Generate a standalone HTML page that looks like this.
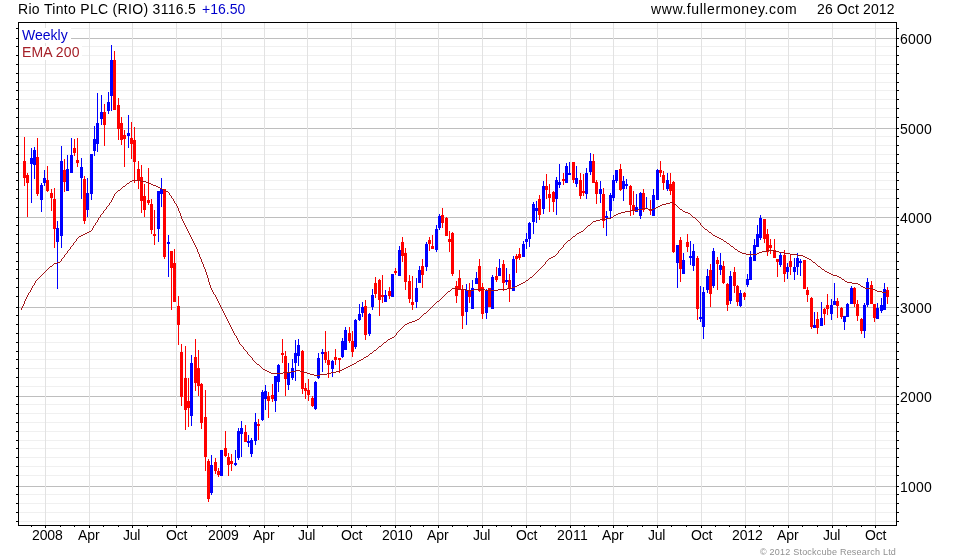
<!DOCTYPE html><html><head><meta charset="utf-8"><title>Rio Tinto PLC (RIO)</title>
<style>html,body{margin:0;padding:0;background:#fff}body{width:980px;height:560px;position:relative;overflow:hidden;font-family:"Liberation Sans",sans-serif;font-size:14px;color:#000}
.t{position:absolute;white-space:nowrap;line-height:16px;height:16px;will-change:transform}.xl{position:absolute;white-space:nowrap;line-height:16px;height:16px;width:60px;text-align:center;top:528px}.yl{position:absolute;white-space:nowrap;line-height:16px;height:16px;left:900px}
</style></head><body>
<svg width="980" height="560" viewBox="0 0 980 560" shape-rendering="crispEdges" style="position:absolute;left:0;top:0">
<rect x="19" y="28" width="877" height="1" fill="#f0f0f0"/>
<rect x="19" y="46" width="877" height="1" fill="#f0f0f0"/>
<rect x="19" y="55" width="877" height="1" fill="#f0f0f0"/>
<rect x="19" y="64" width="877" height="1" fill="#f0f0f0"/>
<rect x="19" y="73" width="877" height="1" fill="#f0f0f0"/>
<rect x="19" y="82" width="877" height="1" fill="#f0f0f0"/>
<rect x="19" y="90" width="877" height="1" fill="#f0f0f0"/>
<rect x="19" y="99" width="877" height="1" fill="#f0f0f0"/>
<rect x="19" y="108" width="877" height="1" fill="#f0f0f0"/>
<rect x="19" y="117" width="877" height="1" fill="#f0f0f0"/>
<rect x="19" y="136" width="877" height="1" fill="#f0f0f0"/>
<rect x="19" y="145" width="877" height="1" fill="#f0f0f0"/>
<rect x="19" y="154" width="877" height="1" fill="#f0f0f0"/>
<rect x="19" y="163" width="877" height="1" fill="#f0f0f0"/>
<rect x="19" y="172" width="877" height="1" fill="#f0f0f0"/>
<rect x="19" y="180" width="877" height="1" fill="#f0f0f0"/>
<rect x="19" y="189" width="877" height="1" fill="#f0f0f0"/>
<rect x="19" y="198" width="877" height="1" fill="#f0f0f0"/>
<rect x="19" y="207" width="877" height="1" fill="#f0f0f0"/>
<rect x="19" y="225" width="877" height="1" fill="#f0f0f0"/>
<rect x="19" y="234" width="877" height="1" fill="#f0f0f0"/>
<rect x="19" y="243" width="877" height="1" fill="#f0f0f0"/>
<rect x="19" y="252" width="877" height="1" fill="#f0f0f0"/>
<rect x="19" y="261" width="877" height="1" fill="#f0f0f0"/>
<rect x="19" y="269" width="877" height="1" fill="#f0f0f0"/>
<rect x="19" y="278" width="877" height="1" fill="#f0f0f0"/>
<rect x="19" y="287" width="877" height="1" fill="#f0f0f0"/>
<rect x="19" y="296" width="877" height="1" fill="#f0f0f0"/>
<rect x="19" y="315" width="877" height="1" fill="#f0f0f0"/>
<rect x="19" y="324" width="877" height="1" fill="#f0f0f0"/>
<rect x="19" y="333" width="877" height="1" fill="#f0f0f0"/>
<rect x="19" y="342" width="877" height="1" fill="#f0f0f0"/>
<rect x="19" y="351" width="877" height="1" fill="#f0f0f0"/>
<rect x="19" y="359" width="877" height="1" fill="#f0f0f0"/>
<rect x="19" y="368" width="877" height="1" fill="#f0f0f0"/>
<rect x="19" y="377" width="877" height="1" fill="#f0f0f0"/>
<rect x="19" y="386" width="877" height="1" fill="#f0f0f0"/>
<rect x="19" y="404" width="877" height="1" fill="#f0f0f0"/>
<rect x="19" y="413" width="877" height="1" fill="#f0f0f0"/>
<rect x="19" y="422" width="877" height="1" fill="#f0f0f0"/>
<rect x="19" y="431" width="877" height="1" fill="#f0f0f0"/>
<rect x="19" y="440" width="877" height="1" fill="#f0f0f0"/>
<rect x="19" y="448" width="877" height="1" fill="#f0f0f0"/>
<rect x="19" y="457" width="877" height="1" fill="#f0f0f0"/>
<rect x="19" y="466" width="877" height="1" fill="#f0f0f0"/>
<rect x="19" y="475" width="877" height="1" fill="#f0f0f0"/>
<rect x="19" y="494" width="877" height="1" fill="#f0f0f0"/>
<rect x="19" y="503" width="877" height="1" fill="#f0f0f0"/>
<rect x="19" y="512" width="877" height="1" fill="#f0f0f0"/>
<rect x="19" y="521" width="877" height="1" fill="#f0f0f0"/>
<rect x="19" y="486" width="877" height="1" fill="#bebebe"/>
<rect x="19" y="396" width="877" height="1" fill="#bebebe"/>
<rect x="19" y="307" width="877" height="1" fill="#bebebe"/>
<rect x="19" y="217" width="877" height="1" fill="#bebebe"/>
<rect x="19" y="128" width="877" height="1" fill="#bebebe"/>
<rect x="19" y="38" width="877" height="1" fill="#bebebe"/>
<rect x="45" y="23" width="1" height="502" fill="#e2e2e2"/>
<rect x="89" y="23" width="1" height="502" fill="#e2e2e2"/>
<rect x="132" y="23" width="1" height="502" fill="#e2e2e2"/>
<rect x="176" y="23" width="1" height="502" fill="#e2e2e2"/>
<rect x="221" y="23" width="1" height="502" fill="#e2e2e2"/>
<rect x="264" y="23" width="1" height="502" fill="#e2e2e2"/>
<rect x="307" y="23" width="1" height="502" fill="#e2e2e2"/>
<rect x="351" y="23" width="1" height="502" fill="#e2e2e2"/>
<rect x="395" y="23" width="1" height="502" fill="#e2e2e2"/>
<rect x="438" y="23" width="1" height="502" fill="#e2e2e2"/>
<rect x="482" y="23" width="1" height="502" fill="#e2e2e2"/>
<rect x="526" y="23" width="1" height="502" fill="#e2e2e2"/>
<rect x="570" y="23" width="1" height="502" fill="#e2e2e2"/>
<rect x="613" y="23" width="1" height="502" fill="#e2e2e2"/>
<rect x="657" y="23" width="1" height="502" fill="#e2e2e2"/>
<rect x="701" y="23" width="1" height="502" fill="#e2e2e2"/>
<rect x="745" y="23" width="1" height="502" fill="#e2e2e2"/>
<rect x="788" y="23" width="1" height="502" fill="#e2e2e2"/>
<rect x="832" y="23" width="1" height="502" fill="#e2e2e2"/>
<rect x="875" y="23" width="1" height="502" fill="#e2e2e2"/>
<rect x="19" y="28" width="52" height="15" fill="#fff"/>
<rect x="19" y="46" width="63" height="14" fill="#fff"/>
<rect x="24" y="137" width="1" height="49" fill="#ff0000"/>
<rect x="23" y="161" width="3" height="17" fill="#ff0000"/>
<rect x="27" y="173" width="1" height="44" fill="#ff0000"/>
<rect x="26" y="175" width="3" height="8" fill="#ff0000"/>
<rect x="31" y="148" width="1" height="55" fill="#0000ff"/>
<rect x="30" y="158" width="3" height="6" fill="#0000ff"/>
<rect x="34" y="147" width="1" height="32" fill="#0000ff"/>
<rect x="33" y="150" width="3" height="15" fill="#0000ff"/>
<rect x="37" y="138" width="1" height="58" fill="#ff0000"/>
<rect x="36" y="157" width="3" height="37" fill="#ff0000"/>
<rect x="41" y="183" width="1" height="29" fill="#0000ff"/>
<rect x="40" y="185" width="3" height="15" fill="#0000ff"/>
<rect x="44" y="170" width="1" height="16" fill="#0000ff"/>
<rect x="43" y="178" width="3" height="5" fill="#0000ff"/>
<rect x="47" y="166" width="1" height="26" fill="#ff0000"/>
<rect x="46" y="180" width="3" height="11" fill="#ff0000"/>
<rect x="51" y="189" width="1" height="22" fill="#ff0000"/>
<rect x="50" y="193" width="3" height="5" fill="#ff0000"/>
<rect x="54" y="188" width="1" height="60" fill="#ff0000"/>
<rect x="53" y="199" width="3" height="30" fill="#ff0000"/>
<rect x="57" y="221" width="1" height="68" fill="#0000ff"/>
<rect x="56" y="228" width="3" height="14" fill="#0000ff"/>
<rect x="61" y="146" width="1" height="102" fill="#0000ff"/>
<rect x="60" y="161" width="3" height="75" fill="#0000ff"/>
<rect x="64" y="159" width="1" height="33" fill="#ff0000"/>
<rect x="63" y="170" width="3" height="12" fill="#ff0000"/>
<rect x="67" y="155" width="1" height="36" fill="#0000ff"/>
<rect x="66" y="169" width="3" height="22" fill="#0000ff"/>
<rect x="71" y="138" width="1" height="35" fill="#0000ff"/>
<rect x="70" y="155" width="3" height="18" fill="#0000ff"/>
<rect x="74" y="139" width="1" height="17" fill="#ff0000"/>
<rect x="73" y="148" width="3" height="5" fill="#ff0000"/>
<rect x="77" y="138" width="1" height="29" fill="#ff0000"/>
<rect x="76" y="160" width="3" height="3" fill="#ff0000"/>
<rect x="81" y="158" width="1" height="41" fill="#0000ff"/>
<rect x="80" y="167" width="3" height="11" fill="#0000ff"/>
<rect x="84" y="176" width="1" height="48" fill="#ff0000"/>
<rect x="83" y="179" width="3" height="42" fill="#ff0000"/>
<rect x="87" y="178" width="1" height="39" fill="#0000ff"/>
<rect x="86" y="193" width="3" height="17" fill="#0000ff"/>
<rect x="91" y="154" width="1" height="46" fill="#0000ff"/>
<rect x="90" y="154" width="3" height="40" fill="#0000ff"/>
<rect x="94" y="126" width="1" height="30" fill="#0000ff"/>
<rect x="93" y="139" width="3" height="12" fill="#0000ff"/>
<rect x="97" y="93" width="1" height="59" fill="#0000ff"/>
<rect x="96" y="123" width="3" height="21" fill="#0000ff"/>
<rect x="101" y="95" width="1" height="30" fill="#0000ff"/>
<rect x="100" y="112" width="3" height="7" fill="#0000ff"/>
<rect x="104" y="104" width="1" height="42" fill="#ff0000"/>
<rect x="103" y="112" width="3" height="13" fill="#ff0000"/>
<rect x="108" y="92" width="1" height="22" fill="#0000ff"/>
<rect x="107" y="102" width="3" height="9" fill="#0000ff"/>
<rect x="111" y="45" width="1" height="66" fill="#0000ff"/>
<rect x="110" y="60" width="3" height="36" fill="#0000ff"/>
<rect x="114" y="51" width="1" height="59" fill="#ff0000"/>
<rect x="113" y="60" width="3" height="50" fill="#ff0000"/>
<rect x="118" y="98" width="1" height="42" fill="#ff0000"/>
<rect x="117" y="105" width="3" height="24" fill="#ff0000"/>
<rect x="121" y="117" width="1" height="28" fill="#ff0000"/>
<rect x="120" y="123" width="3" height="17" fill="#ff0000"/>
<rect x="124" y="130" width="1" height="37" fill="#ff0000"/>
<rect x="123" y="135" width="3" height="4" fill="#ff0000"/>
<rect x="128" y="115" width="1" height="33" fill="#0000ff"/>
<rect x="127" y="133" width="3" height="3" fill="#0000ff"/>
<rect x="131" y="122" width="1" height="37" fill="#ff0000"/>
<rect x="130" y="138" width="3" height="6" fill="#ff0000"/>
<rect x="134" y="127" width="1" height="56" fill="#ff0000"/>
<rect x="133" y="140" width="3" height="22" fill="#ff0000"/>
<rect x="138" y="161" width="1" height="28" fill="#ff0000"/>
<rect x="137" y="169" width="3" height="11" fill="#ff0000"/>
<rect x="141" y="165" width="1" height="48" fill="#ff0000"/>
<rect x="140" y="177" width="3" height="24" fill="#ff0000"/>
<rect x="144" y="184" width="1" height="33" fill="#ff0000"/>
<rect x="143" y="196" width="3" height="14" fill="#ff0000"/>
<rect x="148" y="168" width="1" height="37" fill="#ff0000"/>
<rect x="147" y="200" width="3" height="3" fill="#ff0000"/>
<rect x="151" y="199" width="1" height="35" fill="#ff0000"/>
<rect x="150" y="204" width="3" height="26" fill="#ff0000"/>
<rect x="154" y="210" width="1" height="35" fill="#ff0000"/>
<rect x="153" y="234" width="3" height="2" fill="#ff0000"/>
<rect x="158" y="191" width="1" height="51" fill="#0000ff"/>
<rect x="157" y="191" width="3" height="38" fill="#0000ff"/>
<rect x="161" y="178" width="1" height="29" fill="#0000ff"/>
<rect x="160" y="189" width="3" height="5" fill="#0000ff"/>
<rect x="164" y="189" width="1" height="70" fill="#ff0000"/>
<rect x="163" y="189" width="3" height="68" fill="#ff0000"/>
<rect x="168" y="235" width="1" height="42" fill="#0000ff"/>
<rect x="167" y="242" width="3" height="2" fill="#0000ff"/>
<rect x="171" y="251" width="1" height="59" fill="#ff0000"/>
<rect x="170" y="251" width="3" height="17" fill="#ff0000"/>
<rect x="174" y="249" width="1" height="53" fill="#ff0000"/>
<rect x="173" y="263" width="3" height="39" fill="#ff0000"/>
<rect x="178" y="296" width="1" height="49" fill="#ff0000"/>
<rect x="177" y="306" width="3" height="19" fill="#ff0000"/>
<rect x="181" y="344" width="1" height="62" fill="#ff0000"/>
<rect x="180" y="352" width="3" height="45" fill="#ff0000"/>
<rect x="185" y="346" width="1" height="84" fill="#ff0000"/>
<rect x="184" y="378" width="3" height="32" fill="#ff0000"/>
<rect x="188" y="378" width="1" height="49" fill="#ff0000"/>
<rect x="187" y="401" width="3" height="7" fill="#ff0000"/>
<rect x="191" y="355" width="1" height="71" fill="#0000ff"/>
<rect x="190" y="363" width="3" height="53" fill="#0000ff"/>
<rect x="195" y="339" width="1" height="52" fill="#ff0000"/>
<rect x="194" y="357" width="3" height="26" fill="#ff0000"/>
<rect x="198" y="350" width="1" height="46" fill="#ff0000"/>
<rect x="197" y="368" width="3" height="18" fill="#ff0000"/>
<rect x="201" y="383" width="1" height="46" fill="#ff0000"/>
<rect x="200" y="384" width="3" height="39" fill="#ff0000"/>
<rect x="205" y="390" width="1" height="81" fill="#ff0000"/>
<rect x="204" y="417" width="3" height="40" fill="#ff0000"/>
<rect x="208" y="459" width="1" height="43" fill="#ff0000"/>
<rect x="207" y="461" width="3" height="38" fill="#ff0000"/>
<rect x="211" y="455" width="1" height="40" fill="#0000ff"/>
<rect x="210" y="465" width="3" height="28" fill="#0000ff"/>
<rect x="215" y="458" width="1" height="16" fill="#ff0000"/>
<rect x="214" y="462" width="3" height="9" fill="#ff0000"/>
<rect x="218" y="468" width="1" height="9" fill="#ff0000"/>
<rect x="217" y="471" width="3" height="4" fill="#ff0000"/>
<rect x="221" y="450" width="1" height="26" fill="#0000ff"/>
<rect x="220" y="450" width="3" height="26" fill="#0000ff"/>
<rect x="225" y="431" width="1" height="26" fill="#ff0000"/>
<rect x="224" y="448" width="3" height="8" fill="#ff0000"/>
<rect x="228" y="453" width="1" height="23" fill="#ff0000"/>
<rect x="227" y="457" width="3" height="8" fill="#ff0000"/>
<rect x="231" y="454" width="1" height="17" fill="#ff0000"/>
<rect x="230" y="461" width="3" height="3" fill="#ff0000"/>
<rect x="235" y="450" width="1" height="16" fill="#0000ff"/>
<rect x="234" y="463" width="3" height="2" fill="#0000ff"/>
<rect x="238" y="428" width="1" height="32" fill="#0000ff"/>
<rect x="237" y="431" width="3" height="27" fill="#0000ff"/>
<rect x="241" y="421" width="1" height="36" fill="#0000ff"/>
<rect x="240" y="428" width="3" height="6" fill="#0000ff"/>
<rect x="245" y="425" width="1" height="17" fill="#ff0000"/>
<rect x="244" y="432" width="3" height="10" fill="#ff0000"/>
<rect x="248" y="435" width="1" height="12" fill="#0000ff"/>
<rect x="247" y="441" width="3" height="2" fill="#0000ff"/>
<rect x="251" y="438" width="1" height="19" fill="#0000ff"/>
<rect x="250" y="440" width="3" height="14" fill="#0000ff"/>
<rect x="255" y="413" width="1" height="32" fill="#0000ff"/>
<rect x="254" y="422" width="3" height="19" fill="#0000ff"/>
<rect x="258" y="419" width="1" height="21" fill="#ff0000"/>
<rect x="257" y="424" width="3" height="2" fill="#ff0000"/>
<rect x="262" y="390" width="1" height="31" fill="#0000ff"/>
<rect x="261" y="392" width="3" height="28" fill="#0000ff"/>
<rect x="265" y="385" width="1" height="25" fill="#0000ff"/>
<rect x="264" y="391" width="3" height="8" fill="#0000ff"/>
<rect x="268" y="392" width="1" height="26" fill="#ff0000"/>
<rect x="267" y="396" width="3" height="5" fill="#ff0000"/>
<rect x="272" y="384" width="1" height="18" fill="#ff0000"/>
<rect x="271" y="395" width="3" height="4" fill="#ff0000"/>
<rect x="275" y="376" width="1" height="36" fill="#0000ff"/>
<rect x="274" y="376" width="3" height="25" fill="#0000ff"/>
<rect x="278" y="364" width="1" height="28" fill="#0000ff"/>
<rect x="277" y="365" width="3" height="17" fill="#0000ff"/>
<rect x="282" y="339" width="1" height="24" fill="#ff0000"/>
<rect x="281" y="353" width="3" height="2" fill="#ff0000"/>
<rect x="285" y="351" width="1" height="45" fill="#ff0000"/>
<rect x="284" y="356" width="3" height="23" fill="#ff0000"/>
<rect x="288" y="363" width="1" height="27" fill="#0000ff"/>
<rect x="287" y="372" width="3" height="13" fill="#0000ff"/>
<rect x="292" y="359" width="1" height="21" fill="#0000ff"/>
<rect x="291" y="368" width="3" height="10" fill="#0000ff"/>
<rect x="295" y="340" width="1" height="41" fill="#0000ff"/>
<rect x="294" y="353" width="3" height="10" fill="#0000ff"/>
<rect x="298" y="339" width="1" height="27" fill="#0000ff"/>
<rect x="297" y="345" width="3" height="11" fill="#0000ff"/>
<rect x="302" y="350" width="1" height="44" fill="#ff0000"/>
<rect x="301" y="351" width="3" height="38" fill="#ff0000"/>
<rect x="305" y="383" width="1" height="16" fill="#ff0000"/>
<rect x="304" y="388" width="3" height="3" fill="#ff0000"/>
<rect x="308" y="379" width="1" height="22" fill="#ff0000"/>
<rect x="307" y="390" width="3" height="5" fill="#ff0000"/>
<rect x="312" y="396" width="1" height="11" fill="#ff0000"/>
<rect x="311" y="398" width="3" height="8" fill="#ff0000"/>
<rect x="315" y="381" width="1" height="29" fill="#0000ff"/>
<rect x="314" y="382" width="3" height="27" fill="#0000ff"/>
<rect x="318" y="353" width="1" height="26" fill="#0000ff"/>
<rect x="317" y="358" width="3" height="20" fill="#0000ff"/>
<rect x="322" y="349" width="1" height="23" fill="#0000ff"/>
<rect x="321" y="352" width="3" height="2" fill="#0000ff"/>
<rect x="325" y="331" width="1" height="32" fill="#ff0000"/>
<rect x="324" y="352" width="3" height="8" fill="#ff0000"/>
<rect x="328" y="351" width="1" height="27" fill="#ff0000"/>
<rect x="327" y="360" width="3" height="5" fill="#ff0000"/>
<rect x="332" y="360" width="1" height="17" fill="#0000ff"/>
<rect x="331" y="361" width="3" height="8" fill="#0000ff"/>
<rect x="335" y="349" width="1" height="16" fill="#ff0000"/>
<rect x="334" y="357" width="3" height="3" fill="#ff0000"/>
<rect x="339" y="358" width="1" height="15" fill="#ff0000"/>
<rect x="338" y="358" width="3" height="2" fill="#ff0000"/>
<rect x="342" y="338" width="1" height="20" fill="#0000ff"/>
<rect x="341" y="341" width="3" height="16" fill="#0000ff"/>
<rect x="345" y="327" width="1" height="23" fill="#0000ff"/>
<rect x="344" y="330" width="3" height="20" fill="#0000ff"/>
<rect x="349" y="327" width="1" height="16" fill="#ff0000"/>
<rect x="348" y="333" width="3" height="8" fill="#ff0000"/>
<rect x="352" y="331" width="1" height="26" fill="#ff0000"/>
<rect x="351" y="341" width="3" height="11" fill="#ff0000"/>
<rect x="355" y="319" width="1" height="30" fill="#0000ff"/>
<rect x="354" y="320" width="3" height="27" fill="#0000ff"/>
<rect x="359" y="304" width="1" height="17" fill="#0000ff"/>
<rect x="358" y="314" width="3" height="6" fill="#0000ff"/>
<rect x="362" y="302" width="1" height="15" fill="#0000ff"/>
<rect x="361" y="307" width="3" height="6" fill="#0000ff"/>
<rect x="365" y="300" width="1" height="40" fill="#ff0000"/>
<rect x="364" y="306" width="3" height="29" fill="#ff0000"/>
<rect x="369" y="313" width="1" height="23" fill="#0000ff"/>
<rect x="368" y="314" width="3" height="20" fill="#0000ff"/>
<rect x="372" y="289" width="1" height="21" fill="#0000ff"/>
<rect x="371" y="295" width="3" height="12" fill="#0000ff"/>
<rect x="375" y="277" width="1" height="21" fill="#ff0000"/>
<rect x="374" y="283" width="3" height="11" fill="#ff0000"/>
<rect x="379" y="279" width="1" height="37" fill="#ff0000"/>
<rect x="378" y="280" width="3" height="20" fill="#ff0000"/>
<rect x="382" y="275" width="1" height="28" fill="#ff0000"/>
<rect x="381" y="295" width="3" height="2" fill="#ff0000"/>
<rect x="385" y="290" width="1" height="12" fill="#0000ff"/>
<rect x="384" y="295" width="3" height="7" fill="#0000ff"/>
<rect x="389" y="287" width="1" height="12" fill="#ff0000"/>
<rect x="388" y="291" width="3" height="5" fill="#ff0000"/>
<rect x="392" y="274" width="1" height="23" fill="#0000ff"/>
<rect x="391" y="274" width="3" height="23" fill="#0000ff"/>
<rect x="395" y="268" width="1" height="7" fill="#ff0000"/>
<rect x="394" y="271" width="3" height="2" fill="#ff0000"/>
<rect x="399" y="246" width="1" height="30" fill="#0000ff"/>
<rect x="398" y="250" width="3" height="26" fill="#0000ff"/>
<rect x="402" y="237" width="1" height="25" fill="#ff0000"/>
<rect x="401" y="242" width="3" height="14" fill="#ff0000"/>
<rect x="405" y="248" width="1" height="42" fill="#ff0000"/>
<rect x="404" y="253" width="3" height="29" fill="#ff0000"/>
<rect x="409" y="275" width="1" height="28" fill="#ff0000"/>
<rect x="408" y="281" width="3" height="18" fill="#ff0000"/>
<rect x="412" y="276" width="1" height="34" fill="#ff0000"/>
<rect x="411" y="302" width="3" height="3" fill="#ff0000"/>
<rect x="416" y="278" width="1" height="30" fill="#0000ff"/>
<rect x="415" y="288" width="3" height="14" fill="#0000ff"/>
<rect x="419" y="266" width="1" height="17" fill="#0000ff"/>
<rect x="418" y="270" width="3" height="13" fill="#0000ff"/>
<rect x="422" y="259" width="1" height="29" fill="#ff0000"/>
<rect x="421" y="266" width="3" height="9" fill="#ff0000"/>
<rect x="426" y="242" width="1" height="29" fill="#0000ff"/>
<rect x="425" y="244" width="3" height="23" fill="#0000ff"/>
<rect x="429" y="237" width="1" height="14" fill="#ff0000"/>
<rect x="428" y="240" width="3" height="4" fill="#ff0000"/>
<rect x="432" y="235" width="1" height="14" fill="#ff0000"/>
<rect x="431" y="246" width="3" height="3" fill="#ff0000"/>
<rect x="436" y="225" width="1" height="27" fill="#0000ff"/>
<rect x="435" y="229" width="3" height="21" fill="#0000ff"/>
<rect x="439" y="214" width="1" height="16" fill="#0000ff"/>
<rect x="438" y="216" width="3" height="12" fill="#0000ff"/>
<rect x="442" y="208" width="1" height="20" fill="#ff0000"/>
<rect x="441" y="215" width="3" height="8" fill="#ff0000"/>
<rect x="446" y="217" width="1" height="19" fill="#ff0000"/>
<rect x="445" y="218" width="3" height="18" fill="#ff0000"/>
<rect x="449" y="231" width="1" height="21" fill="#ff0000"/>
<rect x="448" y="239" width="3" height="3" fill="#ff0000"/>
<rect x="452" y="232" width="1" height="44" fill="#ff0000"/>
<rect x="451" y="233" width="3" height="41" fill="#ff0000"/>
<rect x="456" y="281" width="1" height="22" fill="#ff0000"/>
<rect x="455" y="286" width="3" height="10" fill="#ff0000"/>
<rect x="459" y="270" width="1" height="19" fill="#ff0000"/>
<rect x="458" y="278" width="3" height="11" fill="#ff0000"/>
<rect x="462" y="285" width="1" height="44" fill="#ff0000"/>
<rect x="461" y="289" width="3" height="27" fill="#ff0000"/>
<rect x="466" y="284" width="1" height="41" fill="#0000ff"/>
<rect x="465" y="290" width="3" height="22" fill="#0000ff"/>
<rect x="469" y="283" width="1" height="20" fill="#ff0000"/>
<rect x="468" y="290" width="3" height="7" fill="#ff0000"/>
<rect x="472" y="280" width="1" height="29" fill="#0000ff"/>
<rect x="471" y="288" width="3" height="21" fill="#0000ff"/>
<rect x="476" y="272" width="1" height="12" fill="#0000ff"/>
<rect x="475" y="278" width="3" height="6" fill="#0000ff"/>
<rect x="479" y="259" width="1" height="33" fill="#ff0000"/>
<rect x="478" y="266" width="3" height="25" fill="#ff0000"/>
<rect x="482" y="283" width="1" height="36" fill="#ff0000"/>
<rect x="481" y="287" width="3" height="27" fill="#ff0000"/>
<rect x="486" y="289" width="1" height="30" fill="#0000ff"/>
<rect x="485" y="291" width="3" height="22" fill="#0000ff"/>
<rect x="489" y="288" width="1" height="19" fill="#ff0000"/>
<rect x="488" y="288" width="3" height="19" fill="#ff0000"/>
<rect x="492" y="275" width="1" height="34" fill="#0000ff"/>
<rect x="491" y="277" width="3" height="32" fill="#0000ff"/>
<rect x="496" y="267" width="1" height="15" fill="#ff0000"/>
<rect x="495" y="276" width="3" height="4" fill="#ff0000"/>
<rect x="499" y="259" width="1" height="17" fill="#0000ff"/>
<rect x="498" y="268" width="3" height="8" fill="#0000ff"/>
<rect x="503" y="260" width="1" height="31" fill="#ff0000"/>
<rect x="502" y="264" width="3" height="19" fill="#ff0000"/>
<rect x="506" y="268" width="1" height="17" fill="#0000ff"/>
<rect x="505" y="280" width="3" height="2" fill="#0000ff"/>
<rect x="509" y="274" width="1" height="28" fill="#ff0000"/>
<rect x="508" y="280" width="3" height="9" fill="#ff0000"/>
<rect x="513" y="256" width="1" height="35" fill="#0000ff"/>
<rect x="512" y="259" width="3" height="32" fill="#0000ff"/>
<rect x="516" y="254" width="1" height="19" fill="#ff0000"/>
<rect x="515" y="256" width="3" height="3" fill="#ff0000"/>
<rect x="519" y="248" width="1" height="12" fill="#ff0000"/>
<rect x="518" y="254" width="3" height="4" fill="#ff0000"/>
<rect x="523" y="241" width="1" height="16" fill="#0000ff"/>
<rect x="522" y="244" width="3" height="13" fill="#0000ff"/>
<rect x="526" y="233" width="1" height="16" fill="#0000ff"/>
<rect x="525" y="239" width="3" height="3" fill="#0000ff"/>
<rect x="529" y="222" width="1" height="25" fill="#0000ff"/>
<rect x="528" y="223" width="3" height="16" fill="#0000ff"/>
<rect x="533" y="202" width="1" height="32" fill="#0000ff"/>
<rect x="532" y="204" width="3" height="18" fill="#0000ff"/>
<rect x="536" y="201" width="1" height="22" fill="#0000ff"/>
<rect x="535" y="208" width="3" height="3" fill="#0000ff"/>
<rect x="539" y="195" width="1" height="25" fill="#ff0000"/>
<rect x="538" y="199" width="3" height="16" fill="#ff0000"/>
<rect x="543" y="181" width="1" height="33" fill="#0000ff"/>
<rect x="542" y="186" width="3" height="23" fill="#0000ff"/>
<rect x="546" y="174" width="1" height="25" fill="#ff0000"/>
<rect x="545" y="186" width="3" height="4" fill="#ff0000"/>
<rect x="549" y="184" width="1" height="28" fill="#ff0000"/>
<rect x="548" y="194" width="3" height="4" fill="#ff0000"/>
<rect x="553" y="191" width="1" height="21" fill="#ff0000"/>
<rect x="552" y="192" width="3" height="10" fill="#ff0000"/>
<rect x="556" y="177" width="1" height="38" fill="#0000ff"/>
<rect x="555" y="180" width="3" height="19" fill="#0000ff"/>
<rect x="559" y="164" width="1" height="24" fill="#0000ff"/>
<rect x="558" y="182" width="3" height="3" fill="#0000ff"/>
<rect x="563" y="173" width="1" height="12" fill="#ff0000"/>
<rect x="562" y="179" width="3" height="2" fill="#ff0000"/>
<rect x="566" y="163" width="1" height="20" fill="#0000ff"/>
<rect x="565" y="166" width="3" height="17" fill="#0000ff"/>
<rect x="569" y="162" width="1" height="13" fill="#0000ff"/>
<rect x="568" y="173" width="3" height="2" fill="#0000ff"/>
<rect x="573" y="162" width="1" height="21" fill="#ff0000"/>
<rect x="572" y="162" width="3" height="18" fill="#ff0000"/>
<rect x="576" y="166" width="1" height="21" fill="#0000ff"/>
<rect x="575" y="178" width="3" height="6" fill="#0000ff"/>
<rect x="580" y="173" width="1" height="26" fill="#ff0000"/>
<rect x="579" y="180" width="3" height="16" fill="#ff0000"/>
<rect x="583" y="174" width="1" height="22" fill="#ff0000"/>
<rect x="582" y="191" width="3" height="2" fill="#ff0000"/>
<rect x="586" y="168" width="1" height="31" fill="#0000ff"/>
<rect x="585" y="173" width="3" height="21" fill="#0000ff"/>
<rect x="590" y="153" width="1" height="22" fill="#0000ff"/>
<rect x="589" y="161" width="3" height="11" fill="#0000ff"/>
<rect x="593" y="154" width="1" height="29" fill="#ff0000"/>
<rect x="592" y="161" width="3" height="22" fill="#ff0000"/>
<rect x="596" y="180" width="1" height="24" fill="#ff0000"/>
<rect x="595" y="182" width="3" height="12" fill="#ff0000"/>
<rect x="600" y="181" width="1" height="22" fill="#0000ff"/>
<rect x="599" y="189" width="3" height="5" fill="#0000ff"/>
<rect x="603" y="188" width="1" height="40" fill="#ff0000"/>
<rect x="602" y="194" width="3" height="27" fill="#ff0000"/>
<rect x="606" y="211" width="1" height="25" fill="#0000ff"/>
<rect x="605" y="216" width="3" height="2" fill="#0000ff"/>
<rect x="610" y="193" width="1" height="25" fill="#0000ff"/>
<rect x="609" y="195" width="3" height="16" fill="#0000ff"/>
<rect x="613" y="175" width="1" height="26" fill="#0000ff"/>
<rect x="612" y="180" width="3" height="18" fill="#0000ff"/>
<rect x="616" y="170" width="1" height="13" fill="#0000ff"/>
<rect x="615" y="170" width="3" height="11" fill="#0000ff"/>
<rect x="620" y="164" width="1" height="27" fill="#ff0000"/>
<rect x="619" y="169" width="3" height="21" fill="#ff0000"/>
<rect x="623" y="176" width="1" height="25" fill="#0000ff"/>
<rect x="622" y="181" width="3" height="8" fill="#0000ff"/>
<rect x="626" y="179" width="1" height="10" fill="#0000ff"/>
<rect x="625" y="184" width="3" height="2" fill="#0000ff"/>
<rect x="630" y="185" width="1" height="31" fill="#ff0000"/>
<rect x="629" y="186" width="3" height="19" fill="#ff0000"/>
<rect x="633" y="191" width="1" height="24" fill="#ff0000"/>
<rect x="632" y="205" width="3" height="5" fill="#ff0000"/>
<rect x="636" y="194" width="1" height="18" fill="#0000ff"/>
<rect x="635" y="207" width="3" height="5" fill="#0000ff"/>
<rect x="640" y="192" width="1" height="27" fill="#0000ff"/>
<rect x="639" y="193" width="3" height="23" fill="#0000ff"/>
<rect x="643" y="189" width="1" height="23" fill="#ff0000"/>
<rect x="642" y="193" width="3" height="17" fill="#ff0000"/>
<rect x="646" y="197" width="1" height="12" fill="#0000ff"/>
<rect x="645" y="208" width="3" height="1" fill="#0000ff"/>
<rect x="650" y="200" width="1" height="15" fill="#ff0000"/>
<rect x="649" y="209" width="3" height="2" fill="#ff0000"/>
<rect x="653" y="189" width="1" height="27" fill="#0000ff"/>
<rect x="652" y="195" width="3" height="21" fill="#0000ff"/>
<rect x="657" y="169" width="1" height="31" fill="#0000ff"/>
<rect x="656" y="170" width="3" height="30" fill="#0000ff"/>
<rect x="660" y="161" width="1" height="16" fill="#ff0000"/>
<rect x="659" y="170" width="3" height="3" fill="#ff0000"/>
<rect x="663" y="171" width="1" height="19" fill="#ff0000"/>
<rect x="662" y="175" width="3" height="8" fill="#ff0000"/>
<rect x="667" y="173" width="1" height="18" fill="#0000ff"/>
<rect x="666" y="180" width="3" height="9" fill="#0000ff"/>
<rect x="670" y="173" width="1" height="22" fill="#ff0000"/>
<rect x="669" y="184" width="3" height="7" fill="#ff0000"/>
<rect x="673" y="181" width="1" height="72" fill="#ff0000"/>
<rect x="672" y="182" width="3" height="70" fill="#ff0000"/>
<rect x="677" y="245" width="1" height="43" fill="#0000ff"/>
<rect x="676" y="245" width="3" height="18" fill="#0000ff"/>
<rect x="680" y="237" width="1" height="45" fill="#ff0000"/>
<rect x="679" y="240" width="3" height="29" fill="#ff0000"/>
<rect x="683" y="253" width="1" height="21" fill="#0000ff"/>
<rect x="682" y="260" width="3" height="14" fill="#0000ff"/>
<rect x="687" y="234" width="1" height="18" fill="#ff0000"/>
<rect x="686" y="242" width="3" height="5" fill="#ff0000"/>
<rect x="690" y="241" width="1" height="24" fill="#0000ff"/>
<rect x="689" y="256" width="3" height="2" fill="#0000ff"/>
<rect x="693" y="244" width="1" height="27" fill="#0000ff"/>
<rect x="692" y="251" width="3" height="15" fill="#0000ff"/>
<rect x="697" y="256" width="1" height="64" fill="#ff0000"/>
<rect x="696" y="258" width="3" height="51" fill="#ff0000"/>
<rect x="700" y="286" width="1" height="36" fill="#0000ff"/>
<rect x="699" y="317" width="3" height="2" fill="#0000ff"/>
<rect x="703" y="287" width="1" height="52" fill="#0000ff"/>
<rect x="702" y="292" width="3" height="35" fill="#0000ff"/>
<rect x="707" y="269" width="1" height="24" fill="#0000ff"/>
<rect x="706" y="276" width="3" height="14" fill="#0000ff"/>
<rect x="710" y="264" width="1" height="43" fill="#ff0000"/>
<rect x="709" y="270" width="3" height="24" fill="#ff0000"/>
<rect x="713" y="248" width="1" height="40" fill="#0000ff"/>
<rect x="712" y="251" width="3" height="35" fill="#0000ff"/>
<rect x="717" y="257" width="1" height="33" fill="#ff0000"/>
<rect x="716" y="260" width="3" height="4" fill="#ff0000"/>
<rect x="720" y="253" width="1" height="22" fill="#0000ff"/>
<rect x="719" y="265" width="3" height="5" fill="#0000ff"/>
<rect x="723" y="261" width="1" height="23" fill="#ff0000"/>
<rect x="722" y="266" width="3" height="17" fill="#ff0000"/>
<rect x="727" y="283" width="1" height="28" fill="#ff0000"/>
<rect x="726" y="284" width="3" height="21" fill="#ff0000"/>
<rect x="730" y="271" width="1" height="33" fill="#0000ff"/>
<rect x="729" y="276" width="3" height="25" fill="#0000ff"/>
<rect x="734" y="267" width="1" height="26" fill="#ff0000"/>
<rect x="733" y="272" width="3" height="14" fill="#ff0000"/>
<rect x="737" y="285" width="1" height="21" fill="#ff0000"/>
<rect x="736" y="286" width="3" height="16" fill="#ff0000"/>
<rect x="740" y="290" width="1" height="17" fill="#0000ff"/>
<rect x="739" y="293" width="3" height="13" fill="#0000ff"/>
<rect x="744" y="292" width="1" height="8" fill="#ff0000"/>
<rect x="743" y="293" width="3" height="4" fill="#ff0000"/>
<rect x="747" y="274" width="1" height="13" fill="#0000ff"/>
<rect x="746" y="279" width="3" height="6" fill="#0000ff"/>
<rect x="750" y="251" width="1" height="29" fill="#0000ff"/>
<rect x="749" y="257" width="3" height="23" fill="#0000ff"/>
<rect x="754" y="239" width="1" height="22" fill="#0000ff"/>
<rect x="753" y="245" width="3" height="16" fill="#0000ff"/>
<rect x="757" y="225" width="1" height="22" fill="#0000ff"/>
<rect x="756" y="234" width="3" height="13" fill="#0000ff"/>
<rect x="760" y="215" width="1" height="25" fill="#0000ff"/>
<rect x="759" y="218" width="3" height="20" fill="#0000ff"/>
<rect x="764" y="219" width="1" height="24" fill="#ff0000"/>
<rect x="763" y="219" width="3" height="20" fill="#ff0000"/>
<rect x="767" y="229" width="1" height="27" fill="#ff0000"/>
<rect x="766" y="234" width="3" height="18" fill="#ff0000"/>
<rect x="770" y="239" width="1" height="15" fill="#ff0000"/>
<rect x="769" y="245" width="3" height="3" fill="#ff0000"/>
<rect x="774" y="239" width="1" height="19" fill="#ff0000"/>
<rect x="773" y="250" width="3" height="8" fill="#ff0000"/>
<rect x="777" y="259" width="1" height="18" fill="#ff0000"/>
<rect x="776" y="259" width="3" height="3" fill="#ff0000"/>
<rect x="780" y="253" width="1" height="14" fill="#0000ff"/>
<rect x="779" y="255" width="3" height="10" fill="#0000ff"/>
<rect x="784" y="250" width="1" height="32" fill="#ff0000"/>
<rect x="783" y="255" width="3" height="19" fill="#ff0000"/>
<rect x="787" y="263" width="1" height="16" fill="#0000ff"/>
<rect x="786" y="267" width="3" height="5" fill="#0000ff"/>
<rect x="790" y="255" width="1" height="20" fill="#ff0000"/>
<rect x="789" y="261" width="3" height="6" fill="#ff0000"/>
<rect x="794" y="258" width="1" height="22" fill="#0000ff"/>
<rect x="793" y="267" width="3" height="5" fill="#0000ff"/>
<rect x="797" y="253" width="1" height="22" fill="#0000ff"/>
<rect x="796" y="258" width="3" height="9" fill="#0000ff"/>
<rect x="800" y="259" width="1" height="17" fill="#0000ff"/>
<rect x="799" y="261" width="3" height="2" fill="#0000ff"/>
<rect x="804" y="260" width="1" height="29" fill="#ff0000"/>
<rect x="803" y="260" width="3" height="29" fill="#ff0000"/>
<rect x="807" y="287" width="1" height="15" fill="#ff0000"/>
<rect x="806" y="290" width="3" height="5" fill="#ff0000"/>
<rect x="811" y="297" width="1" height="32" fill="#ff0000"/>
<rect x="810" y="298" width="3" height="29" fill="#ff0000"/>
<rect x="814" y="312" width="1" height="16" fill="#0000ff"/>
<rect x="813" y="325" width="3" height="3" fill="#0000ff"/>
<rect x="817" y="312" width="1" height="22" fill="#ff0000"/>
<rect x="816" y="319" width="3" height="9" fill="#ff0000"/>
<rect x="821" y="302" width="1" height="24" fill="#0000ff"/>
<rect x="820" y="318" width="3" height="8" fill="#0000ff"/>
<rect x="824" y="308" width="1" height="17" fill="#ff0000"/>
<rect x="823" y="309" width="3" height="5" fill="#ff0000"/>
<rect x="827" y="294" width="1" height="21" fill="#ff0000"/>
<rect x="826" y="305" width="3" height="4" fill="#ff0000"/>
<rect x="831" y="299" width="1" height="21" fill="#0000ff"/>
<rect x="830" y="305" width="3" height="9" fill="#0000ff"/>
<rect x="834" y="283" width="1" height="22" fill="#0000ff"/>
<rect x="833" y="301" width="3" height="4" fill="#0000ff"/>
<rect x="837" y="298" width="1" height="20" fill="#ff0000"/>
<rect x="836" y="301" width="3" height="5" fill="#ff0000"/>
<rect x="841" y="307" width="1" height="12" fill="#ff0000"/>
<rect x="840" y="308" width="3" height="9" fill="#ff0000"/>
<rect x="844" y="316" width="1" height="14" fill="#0000ff"/>
<rect x="843" y="316" width="3" height="6" fill="#0000ff"/>
<rect x="847" y="303" width="1" height="14" fill="#0000ff"/>
<rect x="846" y="304" width="3" height="13" fill="#0000ff"/>
<rect x="851" y="286" width="1" height="18" fill="#0000ff"/>
<rect x="850" y="288" width="3" height="16" fill="#0000ff"/>
<rect x="854" y="287" width="1" height="20" fill="#ff0000"/>
<rect x="853" y="288" width="3" height="16" fill="#ff0000"/>
<rect x="857" y="300" width="1" height="21" fill="#ff0000"/>
<rect x="856" y="304" width="3" height="12" fill="#ff0000"/>
<rect x="861" y="318" width="1" height="16" fill="#ff0000"/>
<rect x="860" y="319" width="3" height="12" fill="#ff0000"/>
<rect x="864" y="303" width="1" height="35" fill="#0000ff"/>
<rect x="863" y="305" width="3" height="26" fill="#0000ff"/>
<rect x="867" y="278" width="1" height="29" fill="#0000ff"/>
<rect x="866" y="282" width="3" height="23" fill="#0000ff"/>
<rect x="871" y="281" width="1" height="23" fill="#ff0000"/>
<rect x="870" y="285" width="3" height="19" fill="#ff0000"/>
<rect x="874" y="304" width="1" height="18" fill="#ff0000"/>
<rect x="873" y="304" width="3" height="14" fill="#ff0000"/>
<rect x="877" y="303" width="1" height="16" fill="#0000ff"/>
<rect x="876" y="308" width="3" height="11" fill="#0000ff"/>
<rect x="881" y="298" width="1" height="15" fill="#0000ff"/>
<rect x="880" y="305" width="3" height="6" fill="#0000ff"/>
<rect x="884" y="283" width="1" height="27" fill="#0000ff"/>
<rect x="883" y="289" width="3" height="21" fill="#0000ff"/>
<rect x="887" y="287" width="1" height="17" fill="#ff0000"/>
<rect x="886" y="290" width="3" height="7" fill="#ff0000"/>
<path d="M132 180h9v1h-9zM130 181h2v1h-2zM141 181h5v1h-5zM129 182h1v1h-1zM146 182h3v1h-3zM127 183h2v1h-2zM149 183h2v1h-2zM126 184h1v1h-1zM151 184h2v1h-2zM125 185h1v1h-1zM153 185h3v1h-3zM123 186h2v1h-2zM156 186h2v1h-2zM122 187h1v1h-1zM158 187h2v1h-2zM121 188h1v1h-1zM160 188h2v1h-2zM120 189h1v1h-1zM162 189h2v1h-2zM118 190h2v1h-2zM164 190h2v1h-2zM117 191h1v1h-1zM166 191h2v1h-2zM116 192h1v1h-1zM168 192h1v1h-1zM115 193h1v1h-1zM169 193h1v1h-1zM114 194h1v1h-1zM169 194h1v1h-1zM114 195h1v1h-1zM170 195h1v1h-1zM113 196h1v1h-1zM171 196h1v1h-1zM113 197h1v1h-1zM171 197h1v1h-1zM112 198h1v1h-1zM172 198h1v1h-1zM112 199h1v1h-1zM173 199h1v1h-1zM111 200h1v1h-1zM173 200h1v1h-1zM111 201h1v1h-1zM174 201h1v1h-1zM110 202h1v1h-1zM174 202h1v1h-1zM670 202h3v1h-3zM109 203h1v1h-1zM175 203h1v1h-1zM666 203h4v1h-4zM673 203h1v1h-1zM109 204h1v1h-1zM176 204h1v1h-1zM662 204h4v1h-4zM674 204h2v1h-2zM108 205h1v1h-1zM176 205h1v1h-1zM660 205h2v1h-2zM676 205h1v1h-1zM107 206h1v1h-1zM177 206h1v1h-1zM658 206h2v1h-2zM677 206h1v1h-1zM106 207h1v1h-1zM177 207h1v1h-1zM656 207h2v1h-2zM678 207h1v1h-1zM106 208h1v1h-1zM178 208h1v1h-1zM642 208h6v1h-6zM654 208h2v1h-2zM679 208h1v1h-1zM105 209h1v1h-1zM178 209h1v1h-1zM638 209h4v1h-4zM648 209h6v1h-6zM680 209h2v1h-2zM104 210h1v1h-1zM178 210h1v1h-1zM631 210h7v1h-7zM682 210h1v1h-1zM103 211h1v1h-1zM179 211h1v1h-1zM625 211h6v1h-6zM683 211h2v1h-2zM103 212h1v1h-1zM179 212h1v1h-1zM621 212h4v1h-4zM685 212h3v1h-3zM102 213h1v1h-1zM180 213h1v1h-1zM618 213h3v1h-3zM688 213h2v1h-2zM101 214h1v1h-1zM180 214h1v1h-1zM616 214h2v1h-2zM690 214h1v1h-1zM100 215h1v1h-1zM180 215h1v1h-1zM614 215h2v1h-2zM691 215h1v1h-1zM100 216h1v1h-1zM181 216h1v1h-1zM613 216h1v1h-1zM692 216h1v1h-1zM99 217h1v1h-1zM181 217h1v1h-1zM611 217h2v1h-2zM693 217h2v1h-2zM98 218h1v1h-1zM181 218h1v1h-1zM606 218h5v1h-5zM695 218h1v1h-1zM98 219h1v1h-1zM182 219h1v1h-1zM600 219h6v1h-6zM696 219h1v1h-1zM97 220h1v1h-1zM182 220h1v1h-1zM596 220h4v1h-4zM697 220h1v1h-1zM97 221h1v1h-1zM183 221h1v1h-1zM593 221h3v1h-3zM698 221h1v1h-1zM96 222h1v1h-1zM183 222h1v1h-1zM592 222h1v1h-1zM699 222h1v1h-1zM95 223h1v1h-1zM184 223h1v1h-1zM591 223h1v1h-1zM700 223h1v1h-1zM95 224h1v1h-1zM184 224h1v1h-1zM590 224h1v1h-1zM700 224h1v1h-1zM94 225h1v1h-1zM185 225h1v1h-1zM588 225h2v1h-2zM701 225h1v1h-1zM93 226h1v1h-1zM185 226h1v1h-1zM587 226h1v1h-1zM702 226h1v1h-1zM93 227h1v1h-1zM186 227h1v1h-1zM586 227h1v1h-1zM703 227h1v1h-1zM92 228h1v1h-1zM186 228h1v1h-1zM585 228h1v1h-1zM704 228h1v1h-1zM92 229h1v1h-1zM187 229h1v1h-1zM584 229h1v1h-1zM705 229h2v1h-2zM91 230h1v1h-1zM187 230h1v1h-1zM583 230h1v1h-1zM707 230h1v1h-1zM89 231h2v1h-2zM188 231h1v1h-1zM581 231h2v1h-2zM708 231h1v1h-1zM87 232h2v1h-2zM188 232h1v1h-1zM579 232h2v1h-2zM709 232h2v1h-2zM85 233h2v1h-2zM189 233h1v1h-1zM577 233h2v1h-2zM711 233h1v1h-1zM83 234h2v1h-2zM189 234h1v1h-1zM576 234h1v1h-1zM712 234h1v1h-1zM81 235h2v1h-2zM190 235h1v1h-1zM575 235h1v1h-1zM713 235h2v1h-2zM79 236h2v1h-2zM190 236h1v1h-1zM573 236h2v1h-2zM715 236h2v1h-2zM78 237h1v1h-1zM191 237h1v1h-1zM572 237h1v1h-1zM717 237h2v1h-2zM77 238h1v1h-1zM191 238h1v1h-1zM571 238h1v1h-1zM719 238h2v1h-2zM76 239h1v1h-1zM192 239h1v1h-1zM570 239h1v1h-1zM721 239h2v1h-2zM76 240h1v1h-1zM192 240h1v1h-1zM568 240h2v1h-2zM723 240h1v1h-1zM75 241h1v1h-1zM193 241h1v1h-1zM567 241h1v1h-1zM724 241h2v1h-2zM74 242h1v1h-1zM193 242h1v1h-1zM566 242h1v1h-1zM726 242h1v1h-1zM73 243h1v1h-1zM194 243h1v1h-1zM565 243h1v1h-1zM727 243h2v1h-2zM73 244h1v1h-1zM194 244h1v1h-1zM564 244h1v1h-1zM729 244h1v1h-1zM72 245h1v1h-1zM195 245h1v1h-1zM563 245h1v1h-1zM730 245h1v1h-1zM71 246h1v1h-1zM195 246h1v1h-1zM563 246h1v1h-1zM731 246h2v1h-2zM70 247h1v1h-1zM196 247h1v1h-1zM562 247h1v1h-1zM733 247h1v1h-1zM70 248h1v1h-1zM196 248h1v1h-1zM561 248h1v1h-1zM734 248h1v1h-1zM69 249h1v1h-1zM197 249h1v1h-1zM560 249h1v1h-1zM735 249h2v1h-2zM68 250h1v1h-1zM197 250h1v1h-1zM559 250h1v1h-1zM737 250h1v1h-1zM767 250h7v1h-7zM67 251h1v1h-1zM197 251h1v1h-1zM558 251h1v1h-1zM738 251h2v1h-2zM762 251h5v1h-5zM774 251h5v1h-5zM67 252h1v1h-1zM198 252h1v1h-1zM558 252h1v1h-1zM740 252h2v1h-2zM759 252h3v1h-3zM779 252h5v1h-5zM66 253h1v1h-1zM198 253h1v1h-1zM557 253h1v1h-1zM742 253h4v1h-4zM757 253h2v1h-2zM784 253h6v1h-6zM65 254h1v1h-1zM199 254h1v1h-1zM556 254h1v1h-1zM746 254h11v1h-11zM790 254h7v1h-7zM64 255h1v1h-1zM199 255h1v1h-1zM555 255h1v1h-1zM797 255h6v1h-6zM64 256h1v1h-1zM199 256h1v1h-1zM553 256h2v1h-2zM803 256h2v1h-2zM63 257h1v1h-1zM200 257h1v1h-1zM551 257h2v1h-2zM805 257h2v1h-2zM62 258h1v1h-1zM200 258h1v1h-1zM549 258h2v1h-2zM807 258h2v1h-2zM61 259h1v1h-1zM201 259h1v1h-1zM548 259h1v1h-1zM809 259h2v1h-2zM61 260h1v1h-1zM201 260h1v1h-1zM547 260h1v1h-1zM811 260h1v1h-1zM60 261h1v1h-1zM201 261h1v1h-1zM546 261h1v1h-1zM812 261h1v1h-1zM57 262h3v1h-3zM202 262h1v1h-1zM545 262h1v1h-1zM813 262h2v1h-2zM54 263h3v1h-3zM202 263h1v1h-1zM545 263h1v1h-1zM815 263h1v1h-1zM53 264h1v1h-1zM203 264h1v1h-1zM544 264h1v1h-1zM816 264h1v1h-1zM52 265h1v1h-1zM203 265h1v1h-1zM543 265h1v1h-1zM817 265h1v1h-1zM50 266h2v1h-2zM203 266h1v1h-1zM542 266h1v1h-1zM818 266h2v1h-2zM49 267h1v1h-1zM204 267h1v1h-1zM541 267h1v1h-1zM820 267h1v1h-1zM48 268h1v1h-1zM204 268h1v1h-1zM540 268h1v1h-1zM821 268h1v1h-1zM47 269h1v1h-1zM205 269h1v1h-1zM539 269h1v1h-1zM822 269h2v1h-2zM46 270h1v1h-1zM205 270h1v1h-1zM538 270h1v1h-1zM824 270h1v1h-1zM45 271h1v1h-1zM205 271h1v1h-1zM537 271h1v1h-1zM825 271h2v1h-2zM44 272h1v1h-1zM206 272h1v1h-1zM536 272h1v1h-1zM827 272h2v1h-2zM43 273h1v1h-1zM206 273h1v1h-1zM535 273h1v1h-1zM829 273h2v1h-2zM42 274h1v1h-1zM206 274h1v1h-1zM534 274h1v1h-1zM831 274h2v1h-2zM41 275h1v1h-1zM207 275h1v1h-1zM533 275h1v1h-1zM833 275h4v1h-4zM40 276h1v1h-1zM207 276h1v1h-1zM532 276h1v1h-1zM837 276h2v1h-2zM39 277h1v1h-1zM207 277h1v1h-1zM530 277h2v1h-2zM839 277h2v1h-2zM38 278h1v1h-1zM208 278h1v1h-1zM529 278h1v1h-1zM841 278h1v1h-1zM37 279h1v1h-1zM208 279h1v1h-1zM528 279h1v1h-1zM842 279h2v1h-2zM36 280h1v1h-1zM208 280h1v1h-1zM526 280h2v1h-2zM844 280h1v1h-1zM35 281h1v1h-1zM208 281h1v1h-1zM525 281h1v1h-1zM845 281h2v1h-2zM35 282h1v1h-1zM209 282h1v1h-1zM523 282h2v1h-2zM847 282h5v1h-5zM34 283h1v1h-1zM209 283h1v1h-1zM521 283h2v1h-2zM852 283h6v1h-6zM34 284h1v1h-1zM209 284h1v1h-1zM519 284h2v1h-2zM858 284h2v1h-2zM33 285h1v1h-1zM210 285h1v1h-1zM517 285h2v1h-2zM860 285h1v1h-1zM32 286h1v1h-1zM210 286h1v1h-1zM515 286h2v1h-2zM861 286h2v1h-2zM32 287h1v1h-1zM210 287h1v1h-1zM512 287h3v1h-3zM863 287h2v1h-2zM31 288h1v1h-1zM211 288h1v1h-1zM452 288h5v1h-5zM507 288h5v1h-5zM865 288h8v1h-8zM31 289h1v1h-1zM211 289h1v1h-1zM451 289h1v1h-1zM457 289h9v1h-9zM474 289h11v1h-11zM498 289h9v1h-9zM873 289h2v1h-2zM30 290h1v1h-1zM212 290h1v1h-1zM450 290h1v1h-1zM466 290h8v1h-8zM485 290h13v1h-13zM875 290h2v1h-2zM30 291h1v1h-1zM212 291h1v1h-1zM448 291h2v1h-2zM877 291h5v1h-5zM29 292h1v1h-1zM213 292h1v1h-1zM447 292h1v1h-1zM882 292h5v1h-5zM28 293h1v1h-1zM213 293h1v1h-1zM446 293h1v1h-1zM28 294h1v1h-1zM214 294h1v1h-1zM445 294h1v1h-1zM27 295h1v1h-1zM215 295h1v1h-1zM444 295h1v1h-1zM27 296h1v1h-1zM215 296h1v1h-1zM443 296h1v1h-1zM26 297h1v1h-1zM216 297h1v1h-1zM442 297h1v1h-1zM26 298h1v1h-1zM216 298h1v1h-1zM441 298h1v1h-1zM25 299h1v1h-1zM217 299h1v1h-1zM440 299h1v1h-1zM25 300h1v1h-1zM217 300h1v1h-1zM439 300h1v1h-1zM24 301h1v1h-1zM218 301h1v1h-1zM437 301h2v1h-2zM24 302h1v1h-1zM218 302h1v1h-1zM436 302h1v1h-1zM24 303h1v1h-1zM219 303h1v1h-1zM435 303h1v1h-1zM23 304h1v1h-1zM219 304h1v1h-1zM434 304h1v1h-1zM23 305h1v1h-1zM220 305h1v1h-1zM433 305h1v1h-1zM22 306h1v1h-1zM220 306h1v1h-1zM432 306h1v1h-1zM22 307h1v1h-1zM221 307h1v1h-1zM431 307h1v1h-1zM21 308h1v1h-1zM221 308h1v1h-1zM430 308h1v1h-1zM21 309h1v1h-1zM222 309h1v1h-1zM429 309h1v1h-1zM222 310h1v1h-1zM428 310h1v1h-1zM223 311h1v1h-1zM427 311h1v1h-1zM223 312h1v1h-1zM426 312h1v1h-1zM224 313h1v1h-1zM424 313h2v1h-2zM224 314h1v1h-1zM423 314h1v1h-1zM225 315h1v1h-1zM422 315h1v1h-1zM225 316h1v1h-1zM421 316h1v1h-1zM226 317h1v1h-1zM420 317h1v1h-1zM226 318h1v1h-1zM419 318h1v1h-1zM227 319h1v1h-1zM417 319h2v1h-2zM227 320h1v1h-1zM415 320h2v1h-2zM228 321h1v1h-1zM412 321h3v1h-3zM228 322h1v1h-1zM409 322h3v1h-3zM229 323h1v1h-1zM407 323h2v1h-2zM229 324h1v1h-1zM405 324h2v1h-2zM230 325h1v1h-1zM404 325h1v1h-1zM230 326h1v1h-1zM403 326h1v1h-1zM231 327h1v1h-1zM402 327h1v1h-1zM231 328h1v1h-1zM401 328h1v1h-1zM232 329h1v1h-1zM400 329h1v1h-1zM232 330h1v1h-1zM399 330h1v1h-1zM233 331h1v1h-1zM398 331h1v1h-1zM233 332h1v1h-1zM397 332h1v1h-1zM234 333h1v1h-1zM396 333h1v1h-1zM234 334h1v1h-1zM396 334h1v1h-1zM235 335h1v1h-1zM395 335h1v1h-1zM236 336h1v1h-1zM394 336h1v1h-1zM236 337h1v1h-1zM392 337h2v1h-2zM237 338h1v1h-1zM390 338h2v1h-2zM237 339h1v1h-1zM388 339h2v1h-2zM238 340h1v1h-1zM387 340h1v1h-1zM238 341h1v1h-1zM386 341h1v1h-1zM239 342h1v1h-1zM384 342h2v1h-2zM239 343h1v1h-1zM383 343h1v1h-1zM240 344h1v1h-1zM382 344h1v1h-1zM241 345h1v1h-1zM381 345h1v1h-1zM242 346h1v1h-1zM379 346h2v1h-2zM243 347h1v1h-1zM378 347h1v1h-1zM243 348h1v1h-1zM377 348h1v1h-1zM244 349h1v1h-1zM376 349h1v1h-1zM245 350h1v1h-1zM374 350h2v1h-2zM246 351h1v1h-1zM373 351h1v1h-1zM247 352h1v1h-1zM372 352h1v1h-1zM247 353h1v1h-1zM370 353h2v1h-2zM248 354h1v1h-1zM369 354h1v1h-1zM249 355h1v1h-1zM368 355h1v1h-1zM250 356h1v1h-1zM366 356h2v1h-2zM251 357h1v1h-1zM364 357h2v1h-2zM252 358h1v1h-1zM363 358h1v1h-1zM252 359h1v1h-1zM361 359h2v1h-2zM253 360h1v1h-1zM359 360h2v1h-2zM254 361h1v1h-1zM357 361h2v1h-2zM255 362h1v1h-1zM356 362h1v1h-1zM256 363h1v1h-1zM354 363h2v1h-2zM257 364h2v1h-2zM352 364h2v1h-2zM259 365h1v1h-1zM350 365h2v1h-2zM260 366h1v1h-1zM348 366h2v1h-2zM261 367h1v1h-1zM346 367h2v1h-2zM262 368h1v1h-1zM344 368h2v1h-2zM263 369h2v1h-2zM342 369h2v1h-2zM265 370h2v1h-2zM296 370h4v1h-4zM340 370h2v1h-2zM267 371h2v1h-2zM291 371h5v1h-5zM300 371h4v1h-4zM336 371h4v1h-4zM269 372h2v1h-2zM283 372h8v1h-8zM304 372h3v1h-3zM331 372h5v1h-5zM271 373h12v1h-12zM307 373h3v1h-3zM327 373h4v1h-4zM310 374h4v1h-4zM320 374h7v1h-7zM314 375h6v1h-6z" fill="#a01418"/>
<rect x="18" y="22" width="879" height="1" fill="#000"/>
<rect x="18" y="525" width="879" height="1" fill="#000"/>
<rect x="18" y="22" width="1" height="504" fill="#000"/>
<rect x="896" y="22" width="1" height="504" fill="#000"/>
<rect x="16" y="28" width="2" height="1" fill="#000"/>
<rect x="897" y="28" width="2" height="1" fill="#000"/>
<rect x="16" y="46" width="2" height="1" fill="#000"/>
<rect x="897" y="46" width="2" height="1" fill="#000"/>
<rect x="16" y="55" width="2" height="1" fill="#000"/>
<rect x="897" y="55" width="2" height="1" fill="#000"/>
<rect x="16" y="64" width="2" height="1" fill="#000"/>
<rect x="897" y="64" width="2" height="1" fill="#000"/>
<rect x="16" y="73" width="2" height="1" fill="#000"/>
<rect x="897" y="73" width="2" height="1" fill="#000"/>
<rect x="16" y="82" width="2" height="1" fill="#000"/>
<rect x="897" y="82" width="2" height="1" fill="#000"/>
<rect x="16" y="90" width="2" height="1" fill="#000"/>
<rect x="897" y="90" width="2" height="1" fill="#000"/>
<rect x="16" y="99" width="2" height="1" fill="#000"/>
<rect x="897" y="99" width="2" height="1" fill="#000"/>
<rect x="16" y="108" width="2" height="1" fill="#000"/>
<rect x="897" y="108" width="2" height="1" fill="#000"/>
<rect x="16" y="117" width="2" height="1" fill="#000"/>
<rect x="897" y="117" width="2" height="1" fill="#000"/>
<rect x="16" y="136" width="2" height="1" fill="#000"/>
<rect x="897" y="136" width="2" height="1" fill="#000"/>
<rect x="16" y="145" width="2" height="1" fill="#000"/>
<rect x="897" y="145" width="2" height="1" fill="#000"/>
<rect x="16" y="154" width="2" height="1" fill="#000"/>
<rect x="897" y="154" width="2" height="1" fill="#000"/>
<rect x="16" y="163" width="2" height="1" fill="#000"/>
<rect x="897" y="163" width="2" height="1" fill="#000"/>
<rect x="16" y="172" width="2" height="1" fill="#000"/>
<rect x="897" y="172" width="2" height="1" fill="#000"/>
<rect x="16" y="180" width="2" height="1" fill="#000"/>
<rect x="897" y="180" width="2" height="1" fill="#000"/>
<rect x="16" y="189" width="2" height="1" fill="#000"/>
<rect x="897" y="189" width="2" height="1" fill="#000"/>
<rect x="16" y="198" width="2" height="1" fill="#000"/>
<rect x="897" y="198" width="2" height="1" fill="#000"/>
<rect x="16" y="207" width="2" height="1" fill="#000"/>
<rect x="897" y="207" width="2" height="1" fill="#000"/>
<rect x="16" y="225" width="2" height="1" fill="#000"/>
<rect x="897" y="225" width="2" height="1" fill="#000"/>
<rect x="16" y="234" width="2" height="1" fill="#000"/>
<rect x="897" y="234" width="2" height="1" fill="#000"/>
<rect x="16" y="243" width="2" height="1" fill="#000"/>
<rect x="897" y="243" width="2" height="1" fill="#000"/>
<rect x="16" y="252" width="2" height="1" fill="#000"/>
<rect x="897" y="252" width="2" height="1" fill="#000"/>
<rect x="16" y="261" width="2" height="1" fill="#000"/>
<rect x="897" y="261" width="2" height="1" fill="#000"/>
<rect x="16" y="269" width="2" height="1" fill="#000"/>
<rect x="897" y="269" width="2" height="1" fill="#000"/>
<rect x="16" y="278" width="2" height="1" fill="#000"/>
<rect x="897" y="278" width="2" height="1" fill="#000"/>
<rect x="16" y="287" width="2" height="1" fill="#000"/>
<rect x="897" y="287" width="2" height="1" fill="#000"/>
<rect x="16" y="296" width="2" height="1" fill="#000"/>
<rect x="897" y="296" width="2" height="1" fill="#000"/>
<rect x="16" y="315" width="2" height="1" fill="#000"/>
<rect x="897" y="315" width="2" height="1" fill="#000"/>
<rect x="16" y="324" width="2" height="1" fill="#000"/>
<rect x="897" y="324" width="2" height="1" fill="#000"/>
<rect x="16" y="333" width="2" height="1" fill="#000"/>
<rect x="897" y="333" width="2" height="1" fill="#000"/>
<rect x="16" y="342" width="2" height="1" fill="#000"/>
<rect x="897" y="342" width="2" height="1" fill="#000"/>
<rect x="16" y="351" width="2" height="1" fill="#000"/>
<rect x="897" y="351" width="2" height="1" fill="#000"/>
<rect x="16" y="359" width="2" height="1" fill="#000"/>
<rect x="897" y="359" width="2" height="1" fill="#000"/>
<rect x="16" y="368" width="2" height="1" fill="#000"/>
<rect x="897" y="368" width="2" height="1" fill="#000"/>
<rect x="16" y="377" width="2" height="1" fill="#000"/>
<rect x="897" y="377" width="2" height="1" fill="#000"/>
<rect x="16" y="386" width="2" height="1" fill="#000"/>
<rect x="897" y="386" width="2" height="1" fill="#000"/>
<rect x="16" y="404" width="2" height="1" fill="#000"/>
<rect x="897" y="404" width="2" height="1" fill="#000"/>
<rect x="16" y="413" width="2" height="1" fill="#000"/>
<rect x="897" y="413" width="2" height="1" fill="#000"/>
<rect x="16" y="422" width="2" height="1" fill="#000"/>
<rect x="897" y="422" width="2" height="1" fill="#000"/>
<rect x="16" y="431" width="2" height="1" fill="#000"/>
<rect x="897" y="431" width="2" height="1" fill="#000"/>
<rect x="16" y="440" width="2" height="1" fill="#000"/>
<rect x="897" y="440" width="2" height="1" fill="#000"/>
<rect x="16" y="448" width="2" height="1" fill="#000"/>
<rect x="897" y="448" width="2" height="1" fill="#000"/>
<rect x="16" y="457" width="2" height="1" fill="#000"/>
<rect x="897" y="457" width="2" height="1" fill="#000"/>
<rect x="16" y="466" width="2" height="1" fill="#000"/>
<rect x="897" y="466" width="2" height="1" fill="#000"/>
<rect x="16" y="475" width="2" height="1" fill="#000"/>
<rect x="897" y="475" width="2" height="1" fill="#000"/>
<rect x="16" y="494" width="2" height="1" fill="#000"/>
<rect x="897" y="494" width="2" height="1" fill="#000"/>
<rect x="16" y="503" width="2" height="1" fill="#000"/>
<rect x="897" y="503" width="2" height="1" fill="#000"/>
<rect x="16" y="512" width="2" height="1" fill="#000"/>
<rect x="897" y="512" width="2" height="1" fill="#000"/>
<rect x="16" y="521" width="2" height="1" fill="#000"/>
<rect x="897" y="521" width="2" height="1" fill="#000"/>
<rect x="16" y="486" width="2" height="1" fill="#000"/>
<rect x="897" y="486" width="2" height="1" fill="#000"/>
<rect x="16" y="396" width="2" height="1" fill="#000"/>
<rect x="897" y="396" width="2" height="1" fill="#000"/>
<rect x="16" y="307" width="2" height="1" fill="#000"/>
<rect x="897" y="307" width="2" height="1" fill="#000"/>
<rect x="16" y="217" width="2" height="1" fill="#000"/>
<rect x="897" y="217" width="2" height="1" fill="#000"/>
<rect x="16" y="128" width="2" height="1" fill="#000"/>
<rect x="897" y="128" width="2" height="1" fill="#000"/>
<rect x="16" y="38" width="2" height="1" fill="#000"/>
<rect x="897" y="38" width="2" height="1" fill="#000"/>
<rect x="31" y="526" width="1" height="1" fill="#000"/>
<rect x="45" y="526" width="1" height="2" fill="#000"/>
<rect x="60" y="526" width="1" height="1" fill="#000"/>
<rect x="74" y="526" width="1" height="1" fill="#000"/>
<rect x="89" y="526" width="1" height="2" fill="#000"/>
<rect x="103" y="526" width="1" height="1" fill="#000"/>
<rect x="118" y="526" width="1" height="1" fill="#000"/>
<rect x="132" y="526" width="1" height="2" fill="#000"/>
<rect x="147" y="526" width="1" height="1" fill="#000"/>
<rect x="162" y="526" width="1" height="1" fill="#000"/>
<rect x="176" y="526" width="1" height="2" fill="#000"/>
<rect x="191" y="526" width="1" height="1" fill="#000"/>
<rect x="206" y="526" width="1" height="1" fill="#000"/>
<rect x="221" y="526" width="1" height="2" fill="#000"/>
<rect x="235" y="526" width="1" height="1" fill="#000"/>
<rect x="249" y="526" width="1" height="1" fill="#000"/>
<rect x="264" y="526" width="1" height="2" fill="#000"/>
<rect x="278" y="526" width="1" height="1" fill="#000"/>
<rect x="293" y="526" width="1" height="1" fill="#000"/>
<rect x="307" y="526" width="1" height="2" fill="#000"/>
<rect x="322" y="526" width="1" height="1" fill="#000"/>
<rect x="337" y="526" width="1" height="1" fill="#000"/>
<rect x="351" y="526" width="1" height="2" fill="#000"/>
<rect x="366" y="526" width="1" height="1" fill="#000"/>
<rect x="380" y="526" width="1" height="1" fill="#000"/>
<rect x="395" y="526" width="1" height="2" fill="#000"/>
<rect x="410" y="526" width="1" height="1" fill="#000"/>
<rect x="423" y="526" width="1" height="1" fill="#000"/>
<rect x="438" y="526" width="1" height="2" fill="#000"/>
<rect x="452" y="526" width="1" height="1" fill="#000"/>
<rect x="467" y="526" width="1" height="1" fill="#000"/>
<rect x="482" y="526" width="1" height="2" fill="#000"/>
<rect x="496" y="526" width="1" height="1" fill="#000"/>
<rect x="511" y="526" width="1" height="1" fill="#000"/>
<rect x="526" y="526" width="1" height="2" fill="#000"/>
<rect x="540" y="526" width="1" height="1" fill="#000"/>
<rect x="555" y="526" width="1" height="1" fill="#000"/>
<rect x="570" y="526" width="1" height="2" fill="#000"/>
<rect x="584" y="526" width="1" height="1" fill="#000"/>
<rect x="598" y="526" width="1" height="1" fill="#000"/>
<rect x="613" y="526" width="1" height="2" fill="#000"/>
<rect x="627" y="526" width="1" height="1" fill="#000"/>
<rect x="642" y="526" width="1" height="1" fill="#000"/>
<rect x="657" y="526" width="1" height="2" fill="#000"/>
<rect x="671" y="526" width="1" height="1" fill="#000"/>
<rect x="686" y="526" width="1" height="1" fill="#000"/>
<rect x="701" y="526" width="1" height="2" fill="#000"/>
<rect x="715" y="526" width="1" height="1" fill="#000"/>
<rect x="729" y="526" width="1" height="1" fill="#000"/>
<rect x="745" y="526" width="1" height="2" fill="#000"/>
<rect x="759" y="526" width="1" height="1" fill="#000"/>
<rect x="773" y="526" width="1" height="1" fill="#000"/>
<rect x="788" y="526" width="1" height="2" fill="#000"/>
<rect x="802" y="526" width="1" height="1" fill="#000"/>
<rect x="817" y="526" width="1" height="1" fill="#000"/>
<rect x="832" y="526" width="1" height="2" fill="#000"/>
<rect x="846" y="526" width="1" height="1" fill="#000"/>
<rect x="861" y="526" width="1" height="1" fill="#000"/>
<rect x="875" y="526" width="1" height="2" fill="#000"/>
</svg>
<div class="t" style="left:18.4px;top:1px;letter-spacing:0.31px;font-size:14px;color:#000">Rio Tinto PLC (RIO) 3116.5</div>
<div class="t" style="left:201.7px;top:1px;letter-spacing:0.04px;font-size:14px;color:#0000cc">+16.50</div>
<div class="t" style="left:650.6px;top:1px;letter-spacing:0.59px;font-size:14px;color:#000">www.fullermoney.com</div>
<div class="t" style="left:817.2px;top:1px;letter-spacing:0.13px;font-size:14px;color:#000">26 Oct 2012</div>
<div class="t" style="left:22.1px;top:27px;letter-spacing:0.02px;font-size:14px;color:#0000cc">Weekly</div>
<div class="t" style="left:21.7px;top:44px;letter-spacing:0.1px;font-size:14px;color:#a52028">EMA 200</div>
<div class="t" style="left:31.6px;top:527px;letter-spacing:-0.1px;font-size:14px;color:#000">2008</div>
<div class="t" style="left:77.9px;top:527px;letter-spacing:0.0px;font-size:14px;color:#000">Apr</div>
<div class="t" style="left:123.0px;top:527px;letter-spacing:-0.25px;font-size:14px;color:#000">Jul</div>
<div class="t" style="left:165.5px;top:527px;letter-spacing:-0.15px;font-size:14px;color:#000">Oct</div>
<div class="t" style="left:207.6px;top:527px;letter-spacing:-0.1px;font-size:14px;color:#000">2009</div>
<div class="t" style="left:252.9px;top:527px;letter-spacing:0.0px;font-size:14px;color:#000">Apr</div>
<div class="t" style="left:298.0px;top:527px;letter-spacing:-0.25px;font-size:14px;color:#000">Jul</div>
<div class="t" style="left:340.5px;top:527px;letter-spacing:-0.15px;font-size:14px;color:#000">Oct</div>
<div class="t" style="left:381.6px;top:527px;letter-spacing:-0.1px;font-size:14px;color:#000">2010</div>
<div class="t" style="left:426.9px;top:527px;letter-spacing:0.0px;font-size:14px;color:#000">Apr</div>
<div class="t" style="left:473.0px;top:527px;letter-spacing:-0.25px;font-size:14px;color:#000">Jul</div>
<div class="t" style="left:515.5px;top:527px;letter-spacing:-0.15px;font-size:14px;color:#000">Oct</div>
<div class="t" style="left:556.6px;top:527px;letter-spacing:0.23px;font-size:14px;color:#000">2011</div>
<div class="t" style="left:601.9px;top:527px;letter-spacing:0.0px;font-size:14px;color:#000">Apr</div>
<div class="t" style="left:648.0px;top:527px;letter-spacing:-0.25px;font-size:14px;color:#000">Jul</div>
<div class="t" style="left:690.5px;top:527px;letter-spacing:-0.15px;font-size:14px;color:#000">Oct</div>
<div class="t" style="left:731.6px;top:527px;letter-spacing:-0.1px;font-size:14px;color:#000">2012</div>
<div class="t" style="left:776.9px;top:527px;letter-spacing:0.0px;font-size:14px;color:#000">Apr</div>
<div class="t" style="left:823.0px;top:527px;letter-spacing:-0.25px;font-size:14px;color:#000">Jul</div>
<div class="t" style="left:864.5px;top:527px;letter-spacing:-0.15px;font-size:14px;color:#000">Oct</div>
<div class="t" style="left:899.9px;top:479px;letter-spacing:0.2px;font-size:14px;color:#000">1000</div>
<div class="t" style="left:899.9px;top:389px;letter-spacing:0.2px;font-size:14px;color:#000">2000</div>
<div class="t" style="left:899.9px;top:300px;letter-spacing:0.2px;font-size:14px;color:#000">3000</div>
<div class="t" style="left:899.9px;top:210px;letter-spacing:0.2px;font-size:14px;color:#000">4000</div>
<div class="t" style="left:899.9px;top:121px;letter-spacing:0.2px;font-size:14px;color:#000">5000</div>
<div class="t" style="left:899.9px;top:31px;letter-spacing:0.2px;font-size:14px;color:#000">6000</div>
<div class="t" style="left:759.8px;top:544px;letter-spacing:0.22px;font-size:9px;color:#909090">© 2012 Stockcube Research Ltd</div>
</body></html>
